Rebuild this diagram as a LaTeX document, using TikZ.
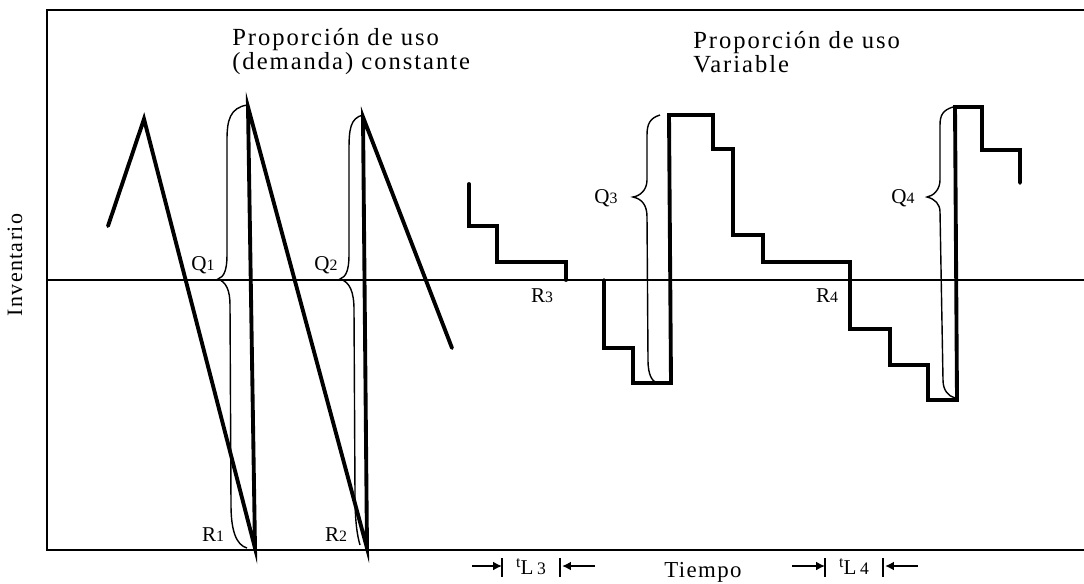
\documentclass[tikz,border=0pt]{standalone}
\usepackage{fontspec}
\setmainfont{Liberation Serif}
\usepackage{tikz}
\usetikzlibrary{arrows.meta,calc,positioning}

\begin{document}
\begin{tikzpicture}[x=0.02cm,y=-0.02cm,
    axis/.style={line width=1.2pt},
    stock/.style={line width=2.2pt,line join=miter,line cap=round},
    brace/.style={line width=0.8pt},
    lbl/.style={font=\fontsize{12}{13}\selectfont\addfontfeatures{LetterSpace=4},inner sep=0pt},
    title/.style={font=\fontsize{14}{11.5}\selectfont\addfontfeatures{LetterSpace=8},inner sep=0pt,anchor=west,align=left},
    lead/.style={line width=1.2pt,-{Latex[length=5pt,width=5pt]}}]
  \useasboundingbox (0,0) rectangle (1084,583);
  % marco
  \draw[axis] (1084,10) -- (47,10) -- (47,550) -- (1084,550);
  \draw[line width=1pt] (47,280) -- (1084,280);
  \node[font=\fontsize{12.5}{14}\selectfont\addfontfeatures{LetterSpace=6},rotate=90] (inv) at (15,265) {Inventario};
  \node[font=\fontsize{13}{14}\selectfont\addfontfeatures{LetterSpace=6}] (tiempo) at (703,572) {Tiempo};
  % titulos
  \node[title] (tcte) at (232,52) {Proporción de uso\\(demanda) constante};
  \node[title] (tvar) at (693,52) {Proporción de uso\\Variable};
  % demanda constante
  \draw[stock] (108,226) -- (144,119) -- (255,548) -- (248,107) -- (367,548) -- (363,117) -- (452,348);
  \draw[brace] (247,105) .. controls (230,108) and (227,120) .. (227,140) -- (227,255)
    .. controls (227,270) and (224,277) .. (218,279) .. controls (226,282) and (230,290) .. (230,305)
    -- (231,505) .. controls (231,530) and (236,545) .. (247,548);
  \draw[brace] (363,115) .. controls (350,118) and (349,130) .. (349,150) -- (349,255)
    .. controls (349,270) and (346,277) .. (340,279) .. controls (350,282) and (354,292) .. (354,310)
    -- (355,495) .. controls (355,520) and (357,535) .. (360,545);
  \node[lbl] (q1) at (203,265) {Q{\fontsize{9}{10}\selectfont 1}};
  \node[lbl] (q2) at (326,265) {Q{\fontsize{9}{10}\selectfont 2}};
  \node[lbl] (r1) at (213,535) {R{\fontsize{9}{10}\selectfont 1}};
  \node[lbl] (r2) at (336,535) {R{\fontsize{9}{10}\selectfont 2}};
  % demanda variable
  \draw[stock] (469,184) -- (469,226) -- (497,226) -- (497,262) -- (566,262) -- (566,280);
  \draw[stock] (604,280) -- (604,348) -- (633,348) -- (633,383) -- (671,383) -- (669,115)
    -- (713,115) -- (713,149) -- (733,149) -- (733,235) -- (763,235) -- (763,262)
    -- (850,262) -- (850,329) -- (890,329) -- (890,365) -- (928,365) -- (928,400)
    -- (957,400) -- (955,107) -- (982,107) -- (982,150) -- (1020,150) -- (1020,183);
  \draw[brace] (660,115) .. controls (650,118) and (647,124) .. (647,135) -- (647,180)
    .. controls (647,190) and (640,196) .. (633,197) .. controls (642,199) and (647,205) .. (647,217)
    -- (648,360) .. controls (648,375) and (652,381) .. (657,383);
  \draw[brace] (953,107) .. controls (943,110) and (940,115) .. (940,125) -- (940,180)
    .. controls (940,190) and (933,196) .. (927,197) .. controls (935,199) and (940,204) .. (940,212)
    -- (943,380) .. controls (943,390) and (948,396) .. (955,398);
  \node[lbl] (q3) at (606,198) {Q{\fontsize{9}{10}\selectfont 3}};
  \node[lbl] (q4) at (903,198) {Q{\fontsize{9}{10}\selectfont 4}};
  \node[lbl] (r3) at (542,296) {R{\fontsize{9}{10}\selectfont 3}};
  \node[lbl] (r4) at (827,296) {R{\fontsize{9}{10}\selectfont 4}};
  % tiempos de entrega
  \coordinate (a3) at (502,558);
  \coordinate (b3) at (560,558);
  \coordinate (a4) at (825,558);
  \coordinate (b4) at (883,558);
  \foreach \k in {a3,b3,a4,b4}
    \draw[line width=1.1pt] (\k) -- ++(0,19);
  \coordinate (s3) at (472,566);
  \coordinate (e3) at (595,566);
  \coordinate (s4) at (792,566);
  \coordinate (e4) at (918,566);
  \draw[lead] (s3) -- ($(a3)+(0,8)$);
  \draw[lead] (e3) -- ($(b3)+(2,8)$);
  \draw[lead] (s4) -- ($(a4)+(0,8)$);
  \draw[lead] (e4) -- ($(b4)+(2,8)$);
  \node[lbl] (tl3) at (531,567) {\raisebox{4pt}{\fontsize{9}{10}\selectfont t}L\,{\fontsize{10}{11}\selectfont 3}};
  \node[lbl] (tl4) at (854,567) {\raisebox{4pt}{\fontsize{9}{10}\selectfont t}L\,{\fontsize{10}{11}\selectfont 4}};
\end{tikzpicture}
\end{document}
